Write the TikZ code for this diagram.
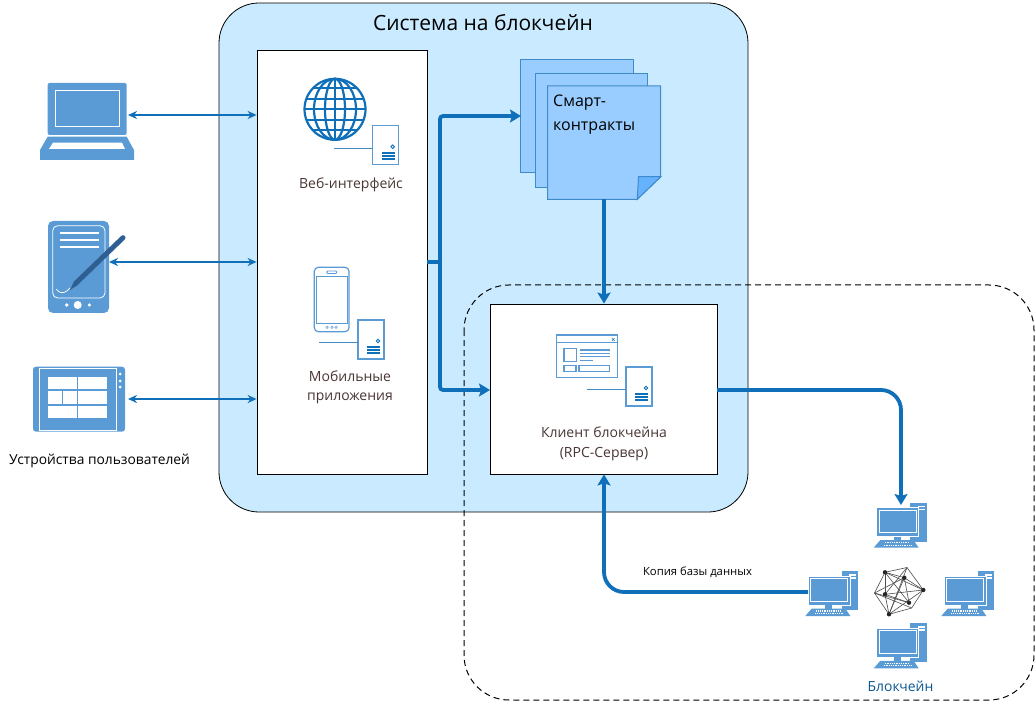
\documentclass[tikz,border=0pt]{standalone}
\usepackage{fontspec}
\setmainfont{Open Sans}
\usetikzlibrary{arrows.meta}
\definecolor{sysblue}{HTML}{CAEBFF}
\definecolor{iconblue}{HTML}{5B9BD5}
\definecolor{linkblue}{HTML}{0F6FB8}
\definecolor{sheetblue}{HTML}{99CCFF}
\definecolor{sheetedge}{HTML}{3F8AC9}
\definecolor{foldblue}{HTML}{66B2FF}
\definecolor{penblue}{HTML}{2F5F92}
\definecolor{browntext}{HTML}{4A3535}
\tikzset{
  box/.style={draw=black,fill=white,line width=0.8pt,inner sep=0pt},
  thinlink/.style={linkblue,line width=1.6pt,{Stealth[length=9pt,width=8pt]}-{Stealth[length=9pt,width=8pt]}},
  thicklink/.style={linkblue,line width=3.8pt,rounded corners=3pt},
  thickarrow/.style={thicklink,-{Stealth[length=11pt,width=13pt,inset=2pt]}},
  sheet/.style={draw=sheetedge,fill=sheetblue,line width=1pt},
  label/.style={text=browntext,font=\fontsize{14}{19.5}\selectfont,align=center,inner sep=0pt},
  iconline/.style={iconblue,line width=1.5pt},
  pics/serverbox/.style={code={
    \draw[iconblue,fill=white,line width=1.5pt] (0,0) rectangle (26,39);
    \draw[linkblue,line width=0.9pt] (20,21) circle (1.8);
    \foreach \y in {27,30,33} \draw[linkblue,line width=1.8pt] (9,\y)--(22,\y);
    \draw[linkblue!80,line width=1.2pt] (-39,22.5)--(0,22.5);
  }},
  pics/desktop/.style={code={
    \fill[iconblue] (33.5,-5) rectangle (50,34);
    \fill[white] (41,-2) rectangle (48,-0.5);
    \fill[white] (41,1) rectangle (48,2.5);
    \fill[iconblue,draw=white,line width=0.6pt] (0,0) rectangle (42,29);
    \draw[white,line width=0.9pt] (2.5,2.5) rectangle (39.5,25);
    \fill[iconblue] (17,29) rectangle (24,33);
    \fill[iconblue] (3.5,32.5)--(37,32.5)--(42,40)--(-3,40)--cycle;
    \draw[white,line width=1.2pt,dash pattern=on 1pt off 0.8pt] (8,35)--(33,35);
    \draw[white,line width=1pt,dash pattern=on 1pt off 0.8pt] (7,37.5)--(35,37.5);
  }}
}
\begin{document}
\begin{tikzpicture}[x=1pt,y=-1pt]
\useasboundingbox (0,0) rectangle (1036,711);
% frames
\node[box,fill=sysblue,rounded corners=40pt,minimum width=529pt,minimum height=509pt] (system) at (483.5,257.5) {};
\draw[line width=1pt,dash pattern=on 6pt off 4pt,rounded corners=45pt] (464,285) rectangle (1034,700);
\node[box,minimum width=170pt,minimum height=424pt] (front) at (342,262) {};
\node[box,minimum width=227pt,minimum height=170pt] (client) at (603.5,389) {};
\node[inner sep=0pt,font=\fontsize{21}{24}\selectfont] (title) at (483,23) {Система на блокчейн};

% laptop
\fill[iconblue,rounded corners=2pt] (47.7,83) rectangle (126.7,135);
\draw[white,line width=0.8pt] (55,90.7) rectangle (119,126.7);
\fill[iconblue] (47.7,136.7)--(126.7,136.7)--(134,150)--(134,160)--(40,160)--(40,150)--cycle;
\fill[white] (53,142.7)--(122,142.7)--(125,149)--(49,149)--cycle;
% pda
\fill[iconblue,rounded corners=5pt] (48,221) rectangle (109,313);
\draw[white,line width=0.8pt,rounded corners=5pt] (52.7,225.7) rectangle (105,298);
\foreach \y in {233.3,240,247} \draw[white,line width=2.4pt] (60,\y)--(99,\y);
\draw[white,line width=0.7pt] (56,289)..controls (62,296) and (66,292)..(70,288);
\fill[white] (77.7,305) circle (4);
\fill[white] (66.7,305) circle (1.8);
\fill[white] (89.3,305) circle (1.8);
\draw[penblue,line width=5pt,line cap=round] (123,237.7)--(76,283);
\fill[penblue] (74.2,281)--(78,284.8)--(70,290)--cycle;
% tablet
\fill[iconblue,rounded corners=3pt] (33,366.7) rectangle (125,431.7);
\draw[white,line width=0.8pt] (39.3,368) rectangle (116,430);
\fill[white] (48.3,376.7) rectangle (76.7,389.3);
\fill[white] (78.3,376.7) rectangle (107.3,389.3);
\fill[white] (48.3,391) rectangle (61.7,404.3);
\fill[white] (63.3,391) rectangle (76.7,404.3);
\fill[white] (78.3,391) rectangle (107.3,404.3);
\fill[white] (48.3,405.7) rectangle (76.7,418.3);
\fill[white] (78.3,405.7) rectangle (107.3,418.3);
\foreach \y in {374,381,387} \fill[white] (120,\y) circle (1.5);
\node[inner sep=0pt,font=\fontsize{13.8}{16}\selectfont] (devices) at (99.5,461) {Устройства пользователей};

% globe
\begin{scope}[linkblue,line width=2.2pt]
\draw (335,109.3) circle (30.5);
\draw (335,109.3) ellipse (10 and 30.5);
\draw (335,109.3) ellipse (21 and 30.5);
\draw (335,78.8)--(335,139.8);
\draw (304.5,109.3)--(365.5,109.3);
\foreach \d/\w in {-21/22,-10.5/29,10.5/29,21/22} \draw (335-\w,109.3+\d)--(335+\w,109.3+\d);
\end{scope}
\pic at (372.7,125.7) {serverbox};
\node[label] (weblabel) at (351,185) {Веб-интерфейс};
% phone
\draw[iconblue,fill=white,line width=1.2pt,rounded corners=4pt] (314.3,267.3) rectangle (349,331.7);
\draw[iconblue,line width=1pt] (316.7,276.7) rectangle (347.3,323.3);
\draw[iconblue,line width=0.8pt,rounded corners=1pt] (326.7,271) rectangle (336.7,273.5);
\foreach \x in {327,332,336} \draw[iconblue,line width=0.5pt] (\x,327.3) circle (1.2);
\pic at (358,320) {serverbox};
\node[label] (moblabel) at (350,387.5) {Мобильные\\приложения};

% smart contracts
\draw[sheet] (520.7,59.3) rectangle (633.3,172.7);
\draw[sheet] (535,74) rectangle (647.3,187.3);
\draw[sheet] (547.7,86)--(660.7,86)--(660.7,176.7)--(637.3,199.3)--(547.7,199.3)--cycle;
\draw[sheet,fill=foldblue] (637.3,199.3)--(638.5,176.7)--(660.7,176.7)--cycle;
\node[inner sep=0pt,anchor=north west,align=left,font=\fontsize{16}{24}\selectfont] (contracts) at (553,95) {Смарт-\\контракты};
\coordinate (sheetin) at (521,116);
\coordinate (sheetout) at (604,199);

% client
\draw[iconline,fill=white] (556.7,335) rectangle (617.3,377.7);
\draw[iconline] (556.7,342.7)--(617.3,342.7);
\draw[linkblue,line width=0.6pt] (612,338.2)--(614.6,340.8) (614.6,338.2)--(612,340.8);
\draw[iconline] (564,348.3) rectangle (576.7,361.7);
\draw[iconline] (564,365.7) rectangle (576,371.7);
\draw[iconline] (579,365.7) rectangle (609.3,371.7);
\draw[iconline,line width=1.1pt] (580,350)--(610,350) (580,353.5)--(610,353.5) (580,356.7)--(610,356.7);
\draw[iconline,line width=1.1pt] (580,360.7)--(593.3,360.7);
\pic at (626,367) {serverbox};
\node[label] (clientlabel) at (604,444) {Клиент блокчейна\\(RPC-Сервер)};

% network
\pic at (876.7,507.7) {desktop};
\pic at (808.3,576) {desktop};
\pic at (944.3,576) {desktop};
\pic at (876.7,628.4) {desktop};
\coordinate (n1) at (885,572.3);
\coordinate (n2) at (907,567.5);
\coordinate (n3) at (923.3,590);
\coordinate (n4) at (911.7,608);
\coordinate (n5) at (889,614.3);
\coordinate (n6) at (874.5,593);
\coordinate (n7) at (904.3,577.7);
\coordinate (n8) at (885,594.3);
\coordinate (n9) at (909,602.7);
\foreach \a/\b in {n1/n2,n2/n3,n3/n4,n4/n5,n5/n6,n6/n1,n1/n3,n1/n9,n1/n7,n2/n5,n2/n8,n3/n5,n3/n8,n9/n6,n5/n7,n6/n7,n7/n9,n8/n9,n8/n1,n8/n5,n7/n3,n4/n6}
  \draw[black!70,line width=0.6pt] (\a)--(\b);
\foreach \a in {n1,n3,n5,n7,n8,n9} \fill[black!85] (\a) circle (2.2);
\node[inner sep=0pt,text=linkblue!80!black,font=\fontsize{13.9}{16}\selectfont] (chain) at (900.5,686) {Блокчейн};
\node[inner sep=0pt,font=\fontsize{11.3}{13}\selectfont] (copylabel) at (697.5,572) {Копия базы данных};
\coordinate (pctop) at (901,505);
\coordinate (pcleft) at (808,592);

% connectors
\coordinate (laptop) at (128,115);
\coordinate (pda) at (109,262);
\coordinate (tablet) at (128,399);
\draw[thinlink] (laptop)--(laptop -| front.west);
\draw[thinlink] (pda)--(pda -| front.west);
\draw[thinlink] (tablet)--(tablet -| front.west);
\coordinate (trunk) at (440,262);
\coordinate (clientin) at (490,390);
\draw[thicklink] (trunk -| front.east)--(trunk);
\draw[thickarrow] (trunk)--(trunk |- sheetin)--(sheetin);
\draw[thickarrow] (trunk)--(trunk |- clientin)--(clientin);
\draw[thickarrow] (sheetout)--(sheetout |- client.north);
\coordinate (clientout) at (717,390);
\draw[thickarrow,rounded corners=20pt] (clientout)--(clientout -| pctop)--(pctop);
\draw[thickarrow,rounded corners=20pt] (pcleft)--(sheetout |- pcleft)--(sheetout |- client.south);
\end{tikzpicture}
\end{document}
